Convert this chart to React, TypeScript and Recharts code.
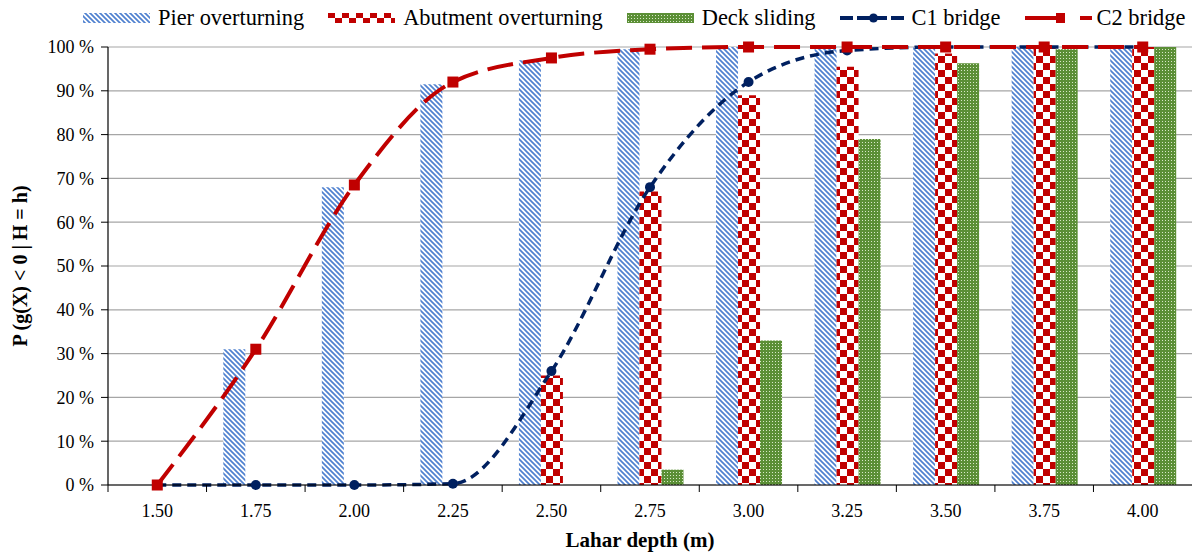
import React from "react";
import {
  ComposedChart,
  Bar,
  Line,
  XAxis,
  YAxis,
  CartesianGrid,
} from "recharts";

const depths = ["1.50", "1.75", "2.00", "2.25", "2.50", "2.75", "3.00", "3.25", "3.50", "3.75", "4.00"];
const pierOverturning = [0, 31, 68, 91.5, 97, 99.5, 100, 100, 100, 100, 100];
const abutmentOverturning = [0, 0, 0, 0, 25, 67, 89, 95.5, 98.5, 100, 100];
const deckSliding = [0, 0, 0, 0, 0, 3.5, 33, 79, 96.3, 99.5, 100];
const c1Bridge = [0, 0, 0, 0.3, 26, 68, 92, 99.2, 100, 100, 100];
const c2Bridge = [0, 31, 68.5, 92, 97.5, 99.5, 100, 100, 100, 100, 100];
const yTicks = [0, 10, 20, 30, 40, 50, 60, 70, 80, 90, 100];

const data = depths.map((d, i) => ({
  depth: d,
  pier: pierOverturning[i],
  abutment: abutmentOverturning[i],
  deck: deckSliding[i],
  c1: c1Bridge[i],
  c2: c2Bridge[i],
}));

const W = 1194;
const H = 553;
const LEFT = 108;
const RIGHT = 2;
const TOP = 47;
const BOTTOM_AXIS = 68;
const PLOT_W = W - LEFT - RIGHT;
const BAND = PLOT_W / depths.length;

const FONT = "'Liberation Serif', 'Times New Roman', serif";
const NAVY = "#002060";
const RED = "#c00000";
const BLUE = "#4f81d0";
const GREEN = "#5b8f36";

const Patterns = () => (
  <defs>
    <pattern id="pierPat" patternUnits="userSpaceOnUse" width="5" height="5">
      <rect width="5" height="5" fill="#fff" />
      <path d="M-1,-1 L6,6 M-1,4 L1,6 M4,-1 L6,1" stroke={BLUE} strokeWidth="1.7" />
    </pattern>
    <pattern id="abutPat" patternUnits="userSpaceOnUse" width="14" height="14">
      <rect width="14" height="14" fill="#fff" />
      <rect x="0" y="0" width="7" height="7" fill={RED} />
      <rect x="7" y="7" width="7" height="7" fill={RED} />
    </pattern>
    <pattern id="deckPat" patternUnits="userSpaceOnUse" width="3" height="3">
      <rect width="3" height="3" fill={GREEN} />
      <rect x="1" y="1" width="1" height="1" fill="#d8e8c8" />
    </pattern>
  </defs>
);

const XTick = (props: any) => {
  const { x, y, payload } = props;
  return (
    <g>
      <line x1={x - BAND / 2} y1={y} x2={x - BAND / 2} y2={y + 7} stroke="#000" strokeWidth={1} />
      <text x={x} y={y + 32} textAnchor="middle" fontFamily={FONT} fontSize={18} fill="#000">
        {payload.value}
      </text>
    </g>
  );
};

const SquareDot = (props: any) => {
  const { cx, cy, index } = props;
  if (cx == null || cy == null) return <g key={`sq-${index}`} />;
  return <rect key={`sq-${index}`} x={cx - 5.5} y={cy - 5.5} width={11} height={11} fill={RED} />;
};

const legendItems = [
  { name: "Pier overturning", kind: "bar", fill: "url(#pierPat)" },
  { name: "Abutment overturning", kind: "bar", fill: "url(#abutPat)" },
  { name: "Deck sliding", kind: "bar", fill: "url(#deckPat)" },
  { name: "C1 bridge", kind: "c1", fill: NAVY },
  { name: "C2 bridge", kind: "c2", fill: RED },
];

const Legend = () => (
  <div
    style={{
      position: "absolute",
      left: 83,
      top: 5,
      display: "flex",
      alignItems: "center",
      fontFamily: FONT,
      fontSize: 22.4,
      color: "#000",
      whiteSpace: "nowrap",
    }}
  >
    {legendItems.map((it) => (
      <div key={it.name} style={{ display: "flex", alignItems: "center", marginRight: 24 }}>
        <svg width={67} height={14} style={{ marginRight: it.kind === "bar" ? 8 : 5 }}>
          {it.kind === "bar" && <rect x={0} y={2} width={67} height={10} fill={it.fill} />}
          {it.kind === "c1" && (
            <g>
              <line x1={0} y1={7} x2={67} y2={7} stroke={NAVY} strokeWidth={4} strokeDasharray="13 4" />
              <circle cx={33.5} cy={7} r={4.5} fill={NAVY} />
            </g>
          )}
          {it.kind === "c2" && (
            <g>
              <line x1={0} y1={7} x2={67} y2={7} stroke={RED} strokeWidth={4} strokeDasharray="37 18 15" />
              <rect x={31} y={2} width={9} height={10} fill={RED} />
            </g>
          )}
        </svg>
        <span>{it.name}</span>
      </div>
    ))}
  </div>
);

export default function App() {
  const midY = TOP + (H - TOP - BOTTOM_AXIS) / 2;
  return (
    <div style={{ position: "absolute", left: 0, top: 0, width: W, height: H, background: "#fff" }}>
      <ComposedChart
        width={W}
        height={H}
        data={data}
        margin={{ top: TOP, right: RIGHT, bottom: 0, left: 0 }}
        barCategoryGap="17%"
        barGap={0}
      >
        <Patterns />
        <CartesianGrid vertical={false} stroke="#a6a6a6" strokeWidth={1.2} />
        <XAxis
          dataKey="depth"
          height={BOTTOM_AXIS}
          tickLine={false}
          tickSize={0}
          tickMargin={0}
          tick={<XTick />}
          interval={0}
          axisLine={{ stroke: "#000", strokeWidth: 1.2 }}
          label={{
            content: () => (
              <text
                x={640}
                y={547}
                textAnchor="middle"
                fontFamily={FONT}
                fontSize={21}
                fontWeight="bold"
                fill="#000"
              >
                Lahar depth (m)
              </text>
            ),
          }}
        />
        <YAxis
          width={LEFT}
          domain={[0, 100]}
          ticks={yTicks}
          tickFormatter={(v: number) => `${v} %`}
          tick={{ fontFamily: FONT, fontSize: 18, fill: "#000" }}
          tickSize={7}
          tickMargin={7}
          tickLine={{ stroke: "#000" }}
          axisLine={{ stroke: "#000", strokeWidth: 1.2 }}
          label={{
            content: () => (
              <text
                x={27}
                y={midY}
                transform={`rotate(-90 27 ${midY})`}
                textAnchor="middle"
                fontFamily={FONT}
                fontSize={20}
                fontWeight="bold"
                fill="#000"
              >
                P (g(X) &lt; 0 | H = h)
              </text>
            ),
          }}
        />
        <Bar dataKey="pier" name="Pier overturning" fill="url(#pierPat)" isAnimationActive={false} />
        <Bar dataKey="abutment" name="Abutment overturning" fill="url(#abutPat)" isAnimationActive={false} />
        <Bar dataKey="deck" name="Deck sliding" fill="url(#deckPat)" isAnimationActive={false} />
        <Line
          type="monotone"
          dataKey="c1"
          name="C1 bridge"
          stroke={NAVY}
          strokeWidth={3.5}
          strokeDasharray="9 6"
          dot={{ r: 5, fill: NAVY, stroke: NAVY, strokeWidth: 0 }}
          activeDot={false}
          isAnimationActive={false}
        />
        <Line
          type="monotone"
          dataKey="c2"
          name="C2 bridge"
          stroke={RED}
          strokeWidth={4}
          strokeDasharray="26 10"
          dot={<SquareDot />}
          activeDot={false}
          isAnimationActive={false}
        />
      </ComposedChart>
      <Legend />
    </div>
  );
}
